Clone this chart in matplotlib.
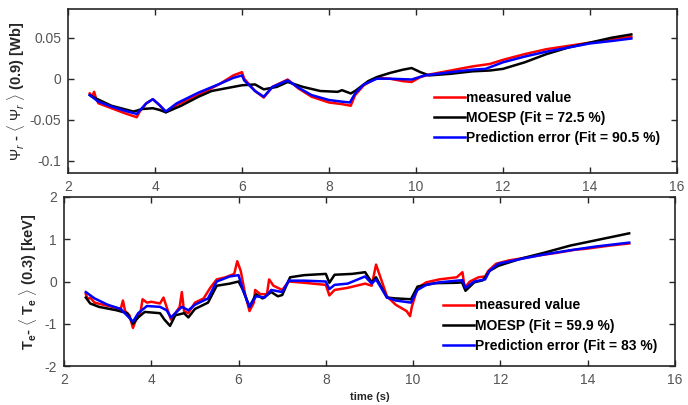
import matplotlib
matplotlib.use("Agg")
import matplotlib.pyplot as plt

plt.rcParams['font.family'] = ['Liberation Sans', 'DejaVu Sans']
plt.rcParams['mathtext.fontset'] = 'custom'
plt.rcParams['mathtext.rm'] = 'Liberation Sans'
plt.rcParams['mathtext.bf'] = 'Liberation Sans:bold'
plt.rcParams['mathtext.it'] = 'Liberation Sans:italic'
plt.rcParams['axes.unicode_minus'] = False

# ---------------- top panel: psi_r ----------------
t_psi_meas = [2.5, 2.55, 2.6, 2.65, 2.7, 3.0, 3.3, 3.58, 3.65, 3.8, 3.95, 4.1, 4.25, 4.5, 5.0, 5.5,
              5.8, 6.0, 6.05, 6.3, 6.5, 6.7, 7.05, 7.3, 7.6, 8.0, 8.3, 8.5, 8.6, 8.8, 9.1, 9.4, 9.7,
              9.9, 10.1, 10.3, 10.8, 11.3, 11.7, 12.0, 12.5, 13.0, 13.5, 14.0, 14.5, 14.95]
psi_meas = [-0.018, -0.022, -0.016, -0.025, -0.03, -0.036, -0.042, -0.047, -0.04, -0.03, -0.025,
            -0.032, -0.041, -0.032, -0.02, -0.006, 0.004, 0.008, 0.0, -0.015, -0.023, -0.01, -0.001,
            -0.012, -0.022, -0.029, -0.031, -0.033, -0.02, -0.008, 0.001, 0.0, -0.003, -0.004, 0.002,
            0.005, 0.01, 0.015, 0.018, 0.023, 0.03, 0.036, 0.04, 0.044, 0.048, 0.051]

t_psi_moesp = [2.5, 2.6, 3.0, 3.5, 3.58, 3.7, 3.95, 4.1, 4.25, 4.6, 5.0, 5.3, 5.8, 6.0, 6.3, 6.5,
               6.8, 7.05, 7.4, 7.8, 8.2, 8.3, 8.5, 8.6, 8.9, 9.1, 9.4, 9.7, 9.9, 10.1, 10.3, 10.8,
               11.3, 11.7, 12.0, 12.5, 13.0, 13.5, 14.0, 14.5, 14.95]
psi_moesp = [-0.02, -0.023, -0.033, -0.04, -0.039, -0.037, -0.036, -0.038, -0.041, -0.033, -0.022,
             -0.015, -0.01, -0.008, -0.007, -0.013, -0.01, -0.004, -0.01, -0.015, -0.016, -0.014,
             -0.018, -0.015, -0.003, 0.002, 0.007, 0.011, 0.013, 0.008, 0.004, 0.006, 0.009, 0.01,
             0.012, 0.02, 0.03, 0.038, 0.044, 0.05, 0.054]

t_psi_pe = [2.5, 2.7, 3.0, 3.3, 3.58, 3.8, 3.95, 4.1, 4.25, 4.5, 5.0, 5.5, 5.8, 6.0, 6.05, 6.3, 6.5,
            6.7, 7.05, 7.3, 7.6, 8.0, 8.3, 8.48, 8.6, 8.8, 9.1, 9.4, 9.9, 10.2, 10.8, 11.3, 11.6,
            12.0, 12.5, 13.0, 13.5, 14.0, 14.5, 14.95]
psi_pe = [-0.02, -0.028, -0.034, -0.039, -0.043, -0.03, -0.025, -0.032, -0.04, -0.03, -0.017,
          -0.006, 0.001, 0.004, -0.002, -0.015, -0.022, -0.01, -0.002, -0.011, -0.02, -0.026, -0.028,
          -0.029, -0.018, -0.007, 0.0, 0.0, -0.001, 0.004, 0.008, 0.011, 0.012, 0.02, 0.027, 0.033,
          0.038, 0.043, 0.046, 0.049]

# ---------------- bottom panel: T_e ----------------
t_te_meas = [2.5, 2.55, 2.6, 2.7, 2.9, 3.1, 3.3, 3.35, 3.4, 3.5, 3.58, 3.65, 3.75, 3.8, 3.9, 4.0,
             4.2, 4.28, 4.35, 4.45, 4.55, 4.65, 4.7, 4.75, 4.85, 5.0, 5.2, 5.35, 5.5, 5.7, 5.9, 5.97,
             6.05, 6.15, 6.25, 6.35, 6.38, 6.5, 6.65, 6.7, 6.8, 6.9, 7.0, 7.15, 7.5, 8.0, 8.08, 8.2,
             8.5, 8.9, 9.05, 9.15, 9.25, 9.4, 9.6, 9.85, 9.93, 9.97, 10.1, 10.3, 10.6, 11.0, 11.13,
             11.18, 11.3, 11.5, 11.65, 11.72, 11.9, 12.2, 12.5, 12.9, 13.3, 13.7, 14.0, 14.5, 14.95]
te_meas = [-0.3, -0.42, -0.38, -0.5, -0.55, -0.6, -0.65, -0.45, -0.7, -0.8, -1.1, -0.9, -0.75,
           -0.42, -0.5, -0.48, -0.52, -0.38, -0.6, -0.9, -0.75, -0.6, -0.25, -0.7, -0.75, -0.5,
           -0.4, -0.15, 0.05, 0.1, 0.18, 0.48, 0.25, -0.3, -0.7, -0.5, -0.2, -0.3, -0.3, 0.05, -0.1,
           -0.15, -0.2, 0.0, -0.03, -0.08, -0.33, -0.2, -0.15, -0.05, -0.1, 0.4, 0.1, -0.35, -0.55,
           -0.7, -0.82, -0.6, -0.15, -0.02, 0.05, 0.1, 0.22, -0.15, 0.0, 0.1, 0.12, 0.25, 0.42, 0.5,
           0.55, 0.62, 0.68, 0.75, 0.78, 0.85, 0.9]

t_te_moesp = [2.5, 2.6, 2.8, 3.2, 3.45, 3.58, 3.7, 3.85, 4.2, 4.3, 4.43, 4.55, 4.75, 4.85, 5.0,
              5.3, 5.5, 5.8, 6.0, 6.1, 6.25, 6.4, 6.55, 6.75, 6.9, 7.0, 7.18, 7.5, 8.0, 8.08, 8.2,
              8.6, 8.9, 9.05, 9.15, 9.4, 9.6, 9.95, 10.1, 10.5, 11.0, 11.12, 11.2, 11.4, 11.6, 11.75,
              11.95, 12.5, 13.0, 13.6, 14.3, 14.95]
te_moesp = [-0.38, -0.52, -0.6, -0.68, -0.75, -1.0, -0.85, -0.72, -0.75, -0.9, -1.05, -0.8, -0.75,
            -0.85, -0.65, -0.5, -0.1, -0.05, 0.0, -0.2, -0.6, -0.3, -0.4, -0.25, -0.35, -0.32, 0.1,
            0.15, 0.18, -0.03, 0.16, 0.18, 0.22, -0.02, 0.1, -0.38, -0.4, -0.42, -0.12, -0.04, -0.03,
            -0.02, -0.22, -0.02, 0.03, 0.25, 0.37, 0.55, 0.68, 0.85, 1.0, 1.14]

t_te_pe = [2.5, 2.7, 3.0, 3.3, 3.58, 3.7, 3.9, 4.2, 4.35, 4.45, 4.7, 4.85, 5.0, 5.3, 5.5, 5.8, 6.0,
           6.1, 6.25, 6.4, 6.6, 6.75, 7.0, 7.15, 7.5, 8.0, 8.08, 8.2, 8.5, 8.9, 9.05, 9.15, 9.4,
           9.6, 9.95, 10.1, 10.3, 10.6, 11.0, 11.13, 11.2, 11.4, 11.65, 11.75, 11.95, 12.5, 13.0,
           13.6, 14.2, 14.95]
te_pe = [-0.25, -0.4, -0.55, -0.65, -0.95, -0.75, -0.58, -0.6, -0.68, -0.85, -0.6, -0.68, -0.55,
         -0.4, 0.0, 0.12, 0.15, -0.2, -0.6, -0.35, -0.38, -0.2, -0.25, 0.02, 0.02, 0.0, -0.18, -0.08,
         -0.05, 0.12, -0.05, 0.05, -0.38, -0.45, -0.5, -0.2, -0.08, -0.02, 0.02, 0.03, -0.15, 0.0,
         0.05, 0.25, 0.42, 0.54, 0.64, 0.74, 0.83, 0.92]

psi_labels = ['measured value', 'MOESP (Fit = 72.5 %)', 'Prediction error (Fit = 90.5 %)']
te_labels = ['measured value', 'MOESP (Fit = 59.9 %)', 'Prediction error (Fit = 83 %)']
psi_yticks = [-0.1, -0.05, 0, 0.05]
psi_yticklabels = ['-0.1', '-0.05', '0', '0.05']
te_yticks = [-2, -1, 0, 1, 2]
xticks = [2, 4, 6, 8, 10, 12, 14, 16]

RED, BLACK, BLUE = '#ff0000', '#000000', '#0000ff'
TICKC = '#555555'
LABC = '#262626'

fig = plt.figure(figsize=(6.88, 4.05), dpi=100)
ax1 = fig.add_axes([68/688, 1-173/405, (677-68)/688, (173-9)/405])
ax2 = fig.add_axes([64/688, 1-366/405, (675-64)/688, (366-197)/405])

lw = 1.8
ax1.plot(t_psi_meas, psi_meas, color=RED, lw=lw, label=psi_labels[0])
ax1.plot(t_psi_moesp, psi_moesp, color=BLACK, lw=lw, label=psi_labels[1])
ax1.plot(t_psi_pe, psi_pe, color=BLUE, lw=lw, label=psi_labels[2])

ax2.plot(t_te_meas, te_meas, color=RED, lw=lw, label=te_labels[0])
ax2.plot(t_te_moesp, te_moesp, color=BLACK, lw=lw, label=te_labels[1])
ax2.plot(t_te_pe, te_pe, color=BLUE, lw=lw, label=te_labels[2])

for ax in (ax1, ax2):
    ax.set_xlim(2, 16)
    ax.set_xticks(xticks)
    ax.tick_params(direction='in', top=True, right=True, length=4, width=1,
                   labelsize=10, colors=LABC, labelcolor=TICKC, pad=5)
    for s in ax.spines.values():
        s.set_color(LABC)
        s.set_linewidth(1.2)

ax1.set_ylim(-0.115, 0.085)
ax1.set_yticks(psi_yticks)
ax1.set_yticklabels(psi_yticklabels)
ax2.set_ylim(-2, 2)
ax2.set_yticks(te_yticks)

ax1.set_ylabel(r'$\Psi_r$ - $\langle\ \Psi_r\ \rangle$ (0.9) [Wb]', fontsize=10.5,
               fontweight='bold', color=LABC, labelpad=2)
ax2.set_ylabel(r'$\mathbf{T_e}$- $\langle$ $\mathbf{T_e}$ $\rangle$ (0.3) [keV]', fontsize=10.5,
               fontweight='bold', color=LABC, labelpad=4)
ax2.set_xlabel('time (s)', fontsize=8, fontweight='bold', color=LABC, labelpad=1)
ax2.xaxis.set_label_coords(0.5, -0.155)

leg_kw = dict(frameon=False, prop={'weight': 'bold', 'size': 10}, handlelength=2.2,
              handletextpad=0.1, labelspacing=0.45, borderaxespad=0.3)
ax1.legend(loc='lower left', bbox_to_anchor=(0.585, 0.11), **leg_kw)
ax2.legend(loc='lower left', bbox_to_anchor=(0.605, 0.02), **leg_kw)

fig.savefig('out.png', dpi=100)
